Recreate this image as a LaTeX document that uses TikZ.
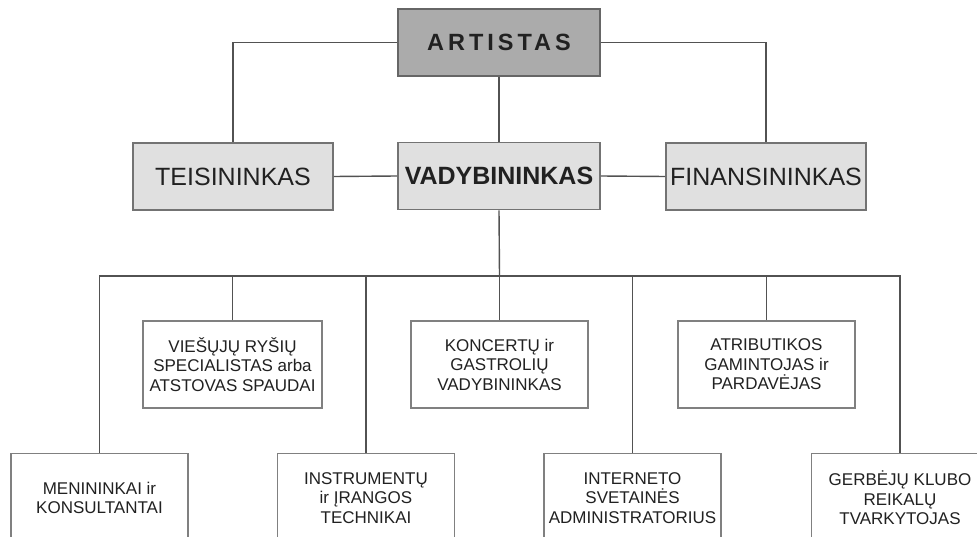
\documentclass[tikz,border=0pt]{standalone}
\usepackage{fontspec}
\setmainfont{Liberation Sans}
\newfontfamily\spacedfont[LetterSpace=17]{Liberation Sans}
\begin{document}
\begin{tikzpicture}[x=1pt,y=-1pt,
  link/.style={draw=black!68, line width=1.4pt},
  topbox/.style={draw=black!60, line width=1.6pt, fill=black!33, minimum width=202pt, minimum height=67pt, text=black!87, inner sep=0pt},
  midbox/.style={draw=black!55, line width=1.6pt, fill=black!12, minimum width=200pt, minimum height=67pt, text=black!87, inner sep=0pt, font=\fontsize{25}{28}\selectfont},
  smallbox/.style={draw=black!50, line width=1.4pt, fill=white, minimum width=177pt, minimum height=87pt, text=black!87, inner sep=0pt, align=center, font=\fontsize{17}{19.5}\selectfont}]
\useasboundingbox (0,0) rectangle (977,537);
\clip (0,0) rectangle (977,537);
\node[topbox, font=\spacedfont\bfseries\fontsize{23.5}{26}\selectfont] (art) at (499,42.5) {ARTISTAS};
\node[midbox] (teis) at (233,176.5) {TEISININKAS};
\node[midbox, minimum width=202pt, font=\bfseries\fontsize{25}{28}\selectfont] (vad) at (499,176) {VADYBININKAS};
\node[midbox] (fin) at (766,176.5) {FINANSININKAS};
\node[smallbox, minimum width=179pt] (vie) at (232.5,364.5) {VIEŠŲJŲ RYŠIŲ\\SPECIALISTAS arba\\ATSTOVAS SPAUDAI};
\node[smallbox] (kon) at (499.5,364.5) {KONCERTŲ ir\\GASTROLIŲ\\VADYBININKAS};
\node[smallbox] (atr) at (766.5,364.5) {ATRIBUTIKOS\\GAMINTOJAS ir\\PARDAVĖJAS};
\node[smallbox, minimum height=89pt] (men) at (99.5,498) {MENININKAI ir\\KONSULTANTAI};
\node[smallbox, minimum height=89pt] (ins) at (366,498) {INSTRUMENTŲ\\ir ĮRANGOS\\TECHNIKAI};
\node[smallbox, minimum height=89pt] (int) at (632.5,498) {INTERNETO\\SVETAINĖS\\ADMINISTRATORIUS};
\node[smallbox, minimum height=89pt] (ger) at (900,498) {GERBĖJŲ KLUBO\\REIKALŲ\\TVARKYTOJAS};
\coordinate (bus) at (499.5,276);
\draw[link] (art.west) -| (teis.north);
\draw[link] (art.east) -| (fin.north);
\draw[link] (art.south) -- (vad.north);
\draw[link] (teis.east) -- (vad.west);
\draw[link] (vad.east) -- (fin.west);
\draw[link] (vad.south) -- (bus);
\draw[link] (men.north) |- (bus) -| (ger.north);
\draw[link] (vie.north) -- (vie.north |- bus);
\draw[link] (kon.north) -- (kon.north |- bus);
\draw[link] (atr.north) -- (atr.north |- bus);
\draw[link] (ins.north) -- (ins.north |- bus);
\draw[link] (int.north) -- (int.north |- bus);
\end{tikzpicture}
\end{document}
